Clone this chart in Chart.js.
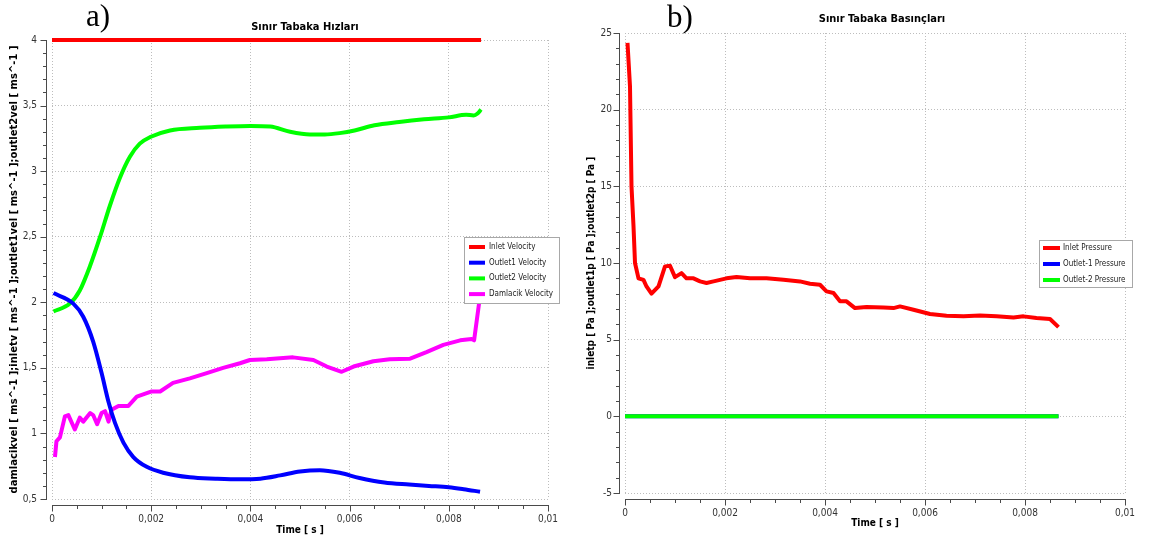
<!DOCTYPE html>
<html>
<head>
<meta charset="utf-8">
<script src="https://cdn.jsdelivr.net/npm/chart.js"></script>
<style>
  html, body { margin: 0; padding: 0; background: #fff; }
  body { width: 1154px; height: 540px; position: relative; overflow: hidden; }
  .panel { position: absolute; top: 0; width: 577px; height: 540px; }
  #panelA { left: 0; }
  #panelB { left: 577px; }
</style>
</head>
<body>
<div class="panel" id="panelA"><canvas id="velChart" width="577" height="540"></canvas></div>
<div class="panel" id="panelB"><canvas id="presChart" width="577" height="540"></canvas></div>
<script>
// ===================================
// Sinir tabaka - velocity (a) and pressure (b) vs time
// times are in ms, converted to seconds for the axis
// ===================================

// --- a) velocities [m/s] ---
const inletVelTimeMs = [0, 8.65];
const inletVel = [4, 4];

const outlet1VelTimeMs = [0.03, 0.43, 0.63, 0.83, 1.0, 1.14, 1.27, 1.44, 1.64, 1.91, 2.24, 2.78, 3.3, 3.79, 4.2,
    4.6, 5.0, 5.4, 5.8, 6.2, 6.7, 7.2, 7.6, 8.0, 8.3, 8.63];
const outlet1Vel = [2.07, 1.99, 1.89, 1.70, 1.46, 1.24, 1.08, 0.93, 0.82, 0.745, 0.70, 0.665, 0.655, 0.65, 0.655,
    0.68, 0.71, 0.72, 0.70, 0.66, 0.625, 0.61, 0.60, 0.59, 0.575, 0.555];

const outlet2VelTimeMs = [0.03, 0.36, 0.56, 0.77, 0.97, 1.17, 1.37, 1.57, 1.77, 1.98, 2.38, 2.98, 3.5, 4.0, 4.4,
    4.8, 5.2, 5.5, 5.8, 6.1, 6.5, 7.0, 7.5, 8.0, 8.35, 8.5, 8.58, 8.65];
const outlet2Vel = [1.93, 1.99, 2.09, 2.28, 2.50, 2.74, 2.95, 3.11, 3.21, 3.26, 3.31, 3.33, 3.34, 3.345, 3.34,
    3.30, 3.28, 3.28, 3.29, 3.31, 3.35, 3.375, 3.395, 3.41, 3.43, 3.425, 3.44, 3.47];

const damlacikVelTimeMs = [0.06, 0.09, 0.16, 0.26, 0.33, 0.46, 0.56, 0.63, 0.77, 0.83, 0.91, 1.0, 1.07, 1.14, 1.2,
    1.34, 1.54, 1.71, 2.01, 2.18, 2.44, 2.78, 3.12, 3.45, 3.79, 3.99, 4.33, 4.86, 5.27, 5.54, 5.84, 6.08, 6.48,
    6.81, 7.22, 7.55, 7.89, 8.23, 8.46, 8.51, 8.62, 8.65];
const damlacikVel = [0.82, 0.94, 0.97, 1.13, 1.14, 1.03, 1.12, 1.09, 1.155, 1.14, 1.07, 1.155, 1.17, 1.09, 1.18,
    1.21, 1.21, 1.28, 1.32, 1.32, 1.385, 1.42, 1.46, 1.50, 1.535, 1.56, 1.565, 1.58, 1.56, 1.51, 1.47, 1.51, 1.55,
    1.565, 1.57, 1.62, 1.675, 1.71, 1.72, 1.71, 2.02, 2.12];

// --- b) pressures [Pa] ---
const inletPresTimeMs = [0.05, 0.1, 0.13, 0.17, 0.2, 0.27, 0.37, 0.43, 0.53, 0.67, 0.8, 0.9, 1.0, 1.13, 1.23, 1.37,
    1.5, 1.63, 1.77, 2.03, 2.23, 2.5, 2.83, 3.17, 3.5, 3.7, 3.9, 4.03, 4.17, 4.3, 4.43, 4.6, 4.83, 5.17, 5.37, 5.5,
    5.77, 6.1, 6.43, 6.77, 7.1, 7.43, 7.77, 7.97, 8.23, 8.5, 8.67];
const inletPres = [24.35, 21.5, 15.0, 12.4, 10.0, 9.0, 8.9, 8.47, 8.0, 8.47, 9.78, 9.82, 9.08, 9.34, 9.0, 9.0,
    8.8, 8.7, 8.8, 9.0, 9.08, 9.0, 9.0, 8.9, 8.8, 8.65, 8.58, 8.15, 8.04, 7.5, 7.5, 7.06, 7.13, 7.1, 7.06, 7.17,
    6.95, 6.67, 6.56, 6.52, 6.58, 6.52, 6.45, 6.52, 6.41, 6.35, 5.82];
const outletPresTimeMs = [0, 8.67];
const outlet1Pres = [0, 0];
const outlet2Pres = [0, 0];

// --- axis ticks ---
const timeTicks = { min: 0, max: 0.01, step: 0.002, minor: 0.0005 };
const velTicks = { min: 0.5, max: 4, step: 0.5, minor: 0.1 };
const presTicks = { min: -5, max: 25, step: 5, minor: 1 };

const UI_FONT = "'DejaVu Sans Condensed', 'DejaVu Sans', sans-serif";
const GRID = '#bdbdbd';
const TICK_COLOR = '#333333';

function pts(timesMs, values) {
    return timesMs.map((t, i) => ({ x: t / 1000, y: values[i] }));
}

function decimalComma(v) {
    return String(+Number(v).toFixed(4)).replace('.', ',');
}

function eachStep(min, max, minor, major, fn) {
    const n = Math.round((max - min) / minor);
    for (let i = 0; i <= n; i++) {
        const v = min + i * minor;
        const r = v / major;
        fn(v, Math.abs(r - Math.round(r)) < 1e-6);
    }
}

// axis lines with minor ticks, legend box and panel titles
const panelDecor = {
    id: 'panelDecor',
    afterDraw(chart, args, o) {
        const { ctx, chartArea: a } = chart;
        const xs = chart.scales.x, ys = chart.scales.y;
        ctx.save();

        ctx.strokeStyle = '#4a4a4a';
        ctx.lineWidth = 1;
        const axX = Math.round(a.left - o.axisGap) + 0.5;
        const axY = Math.round(a.bottom + o.axisGap) + 0.5;
        ctx.beginPath();
        ctx.moveTo(axX, a.top);
        ctx.lineTo(axX, a.bottom + 1);
        ctx.moveTo(a.left, axY);
        ctx.lineTo(a.right + 1, axY);
        eachStep(ys.min, ys.max, o.yMinor, o.yMajor, (v, major) => {
            const p = Math.round(ys.getPixelForValue(v)) + 0.5;
            ctx.moveTo(axX - (major ? 6 : 3.5), p);
            ctx.lineTo(axX, p);
        });
        eachStep(xs.min, xs.max, o.xMinor, o.xMajor, (v, major) => {
            const p = Math.round(xs.getPixelForValue(v)) + 0.5;
            ctx.moveTo(p, axY);
            ctx.lineTo(p, axY + (major ? 6 : 3.5));
        });
        ctx.stroke();

        // legend
        const L = o.legend;
        ctx.fillStyle = '#ffffff';
        ctx.fillRect(L.x, L.y, L.w, L.h);
        ctx.strokeStyle = '#a8a8a8';
        ctx.strokeRect(L.x + 0.5, L.y + 0.5, L.w, L.h);
        ctx.font = '8px ' + UI_FONT;
        ctx.textAlign = 'left';
        ctx.textBaseline = 'middle';
        chart.data.datasets.forEach((ds, i) => {
            const cy = L.row0 + i * L.rowH;
            ctx.fillStyle = ds.borderColor;
            ctx.fillRect(L.swX, cy - 2, L.swW, 4);
            ctx.fillStyle = '#222';
            ctx.fillText(ds.label, L.textX, cy);
        });

        // chart title and panel tag
        ctx.fillStyle = '#000';
        ctx.textAlign = 'center';
        ctx.font = 'bold 11px ' + UI_FONT;
        ctx.fillText(o.title, o.titleX, o.titleY);
        ctx.textAlign = 'left';
        ctx.textBaseline = 'alphabetic';
        ctx.font = '31px "Liberation Serif", "Times New Roman", serif';
        ctx.fillText(o.tag, o.tagX, o.tagY);

        ctx.restore();
    }
};

function lineSet(label, data, color, smooth, order) {
    return {
        label: label,
        data: data,
        borderColor: color,
        backgroundColor: color,
        borderWidth: 4,
        pointRadius: 0,
        fill: false,
        clip: false,
        order: order,
        borderJoinStyle: 'round',
        tension: 0,
        cubicInterpolationMode: smooth ? 'monotone' : 'default'
    };
}

function buildChart(id, cfg) {
    return new Chart(document.getElementById(id), {
        type: 'line',
        data: { datasets: cfg.datasets },
        plugins: [panelDecor],
        options: {
            responsive: false,
            animation: false,
            devicePixelRatio: 1,
            layout: { padding: { top: cfg.top, right: 29, left: 0, bottom: 0 } },
            plugins: {
                legend: { display: false },
                tooltip: { enabled: false },
                panelDecor: cfg.decor
            },
            scales: {
                x: {
                    type: 'linear',
                    min: timeTicks.min,
                    max: timeTicks.max,
                    afterFit(s) { s.height = cfg.xHeight; },
                    grid: { color: GRID, lineWidth: 1, drawTicks: false },
                    border: { display: false, dash: [1, 2] },
                    ticks: {
                        stepSize: timeTicks.step,
                        autoSkip: false,
                        maxRotation: 0,
                        padding: 14,
                        color: TICK_COLOR,
                        font: { family: UI_FONT, size: 10 },
                        callback: decimalComma
                    },
                    title: {
                        display: true,
                        text: 'Time [ s ]',
                        color: '#000',
                        font: { family: UI_FONT, size: 10, weight: 'bold' },
                        padding: { top: 0, bottom: cfg.xTitlePad }
                    }
                },
                y: {
                    min: cfg.yTicks.min,
                    max: cfg.yTicks.max,
                    afterFit(s) { s.width = cfg.yWidth; },
                    grid: { color: GRID, lineWidth: 1, drawTicks: false },
                    border: { display: false, dash: [1, 2] },
                    ticks: {
                        stepSize: cfg.yTicks.step,
                        autoSkip: false,
                        padding: cfg.yLabelPad,
                        color: TICK_COLOR,
                        font: { family: UI_FONT, size: 10 },
                        callback: decimalComma
                    },
                    title: {
                        display: true,
                        text: cfg.yTitle,
                        color: '#000',
                        font: { family: cfg.yTitleFont, size: 10, weight: 'bold' },
                        padding: { top: 8, bottom: 0 }
                    }
                }
            }
        }
    });
}

buildChart('velChart', {
    top: 40,
    xHeight: 41,
    xTitlePad: 4,
    yWidth: 52,
    yLabelPad: 15,
    yTicks: velTicks,
    yTitle: 'damlacikvel [ ms^-1 ];inletv [ ms^-1 ];outlet1vel [ ms^-1 ];outlet2vel [ ms^-1 ]',
    yTitleFont: "'DejaVu Sans', sans-serif",
    datasets: [
        lineSet('Inlet Velocity', pts(inletVelTimeMs, inletVel), '#ff0000', false, 0),
        lineSet('Outlet1 Velocity', pts(outlet1VelTimeMs, outlet1Vel), '#0000ff', true, 1),
        lineSet('Outlet2 Velocity', pts(outlet2VelTimeMs, outlet2Vel), '#00ff00', true, 2),
        lineSet('Damlacik Velocity', pts(damlacikVelTimeMs, damlacikVel), '#ff00ff', false, 3)
    ],
    decor: {
        axisGap: 6,
        xMinor: timeTicks.minor, xMajor: timeTicks.step,
        yMinor: velTicks.minor, yMajor: velTicks.step,
        legend: { x: 464, y: 237, w: 95, h: 66, row0: 247, rowH: 15.7, swX: 469, swW: 16, textX: 489 },
        title: 'Sınır Tabaka Hızları', titleX: 305, titleY: 27,
        tag: 'a)', tagX: 86, tagY: 26
    }
});

buildChart('presChart', {
    top: 33,
    xHeight: 47,
    xTitlePad: 11,
    yWidth: 48,
    yLabelPad: 13,
    yTicks: presTicks,
    yTitle: 'inletp [ Pa ];outlet1p [ Pa ];outlet2p [ Pa ]',
    yTitleFont: UI_FONT,
    datasets: [
        lineSet('Inlet Pressure', pts(inletPresTimeMs, inletPres), '#ff0000', false, 0),
        lineSet('Outlet-1 Pressure', pts(outletPresTimeMs, outlet1Pres), '#0000ff', false, 2),
        lineSet('Outlet-2 Pressure', pts(outletPresTimeMs, outlet2Pres), '#00ff00', false, 1)
    ],
    decor: {
        axisGap: 6,
        xMinor: timeTicks.minor, xMajor: timeTicks.step,
        yMinor: presTicks.minor, yMajor: presTicks.step,
        legend: { x: 462, y: 240, w: 93, h: 47, row0: 248, rowH: 16, swX: 466, swW: 17, textX: 486 },
        title: 'Sınır Tabaka Basınçları', titleX: 305, titleY: 19,
        tag: 'b)', tagX: 90, tagY: 27
    }
});
</script>
</body>
</html>
